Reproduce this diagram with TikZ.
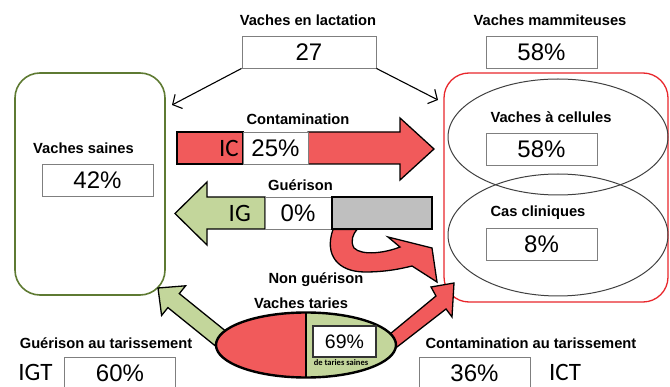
\documentclass[tikz,border=0pt]{standalone}
\usepackage{fontspec}
\setmainfont{Liberation Sans}
\newfontfamily\calibfont{Carlito}
\usepackage{tikz}
\usetikzlibrary{arrows.meta,shapes.geometric}
\usepackage{xcolor}

\definecolor{redfill}{HTML}{F15A5B}
\definecolor{greenfill}{HTML}{C3D69B}
\definecolor{oliveedge}{HTML}{5E7A32}
\definecolor{rededge}{HTML}{E8262B}
\definecolor{grayfill}{HTML}{BFBFBF}
\definecolor{boxedge}{HTML}{7F7F7F}

\begin{document}
\begin{tikzpicture}[
    x=1pt, y=-1pt,
    lbl/.style={inner sep=0pt, font=\fontsize{14.7}{17}\selectfont\bfseries},
    valbox/.style={draw=boxedge, line width=0.9pt, fill=white, inner sep=0pt, minimum width=111pt, minimum height=32pt, font=\fontsize{24}{26}\selectfont},
    idx/.style={inner sep=0pt, font=\calibfont\fontsize{25}{27}\selectfont},
    group/.style={rounded corners=25pt, line width=1.6pt, inner sep=0pt},
    cell/.style={draw=black!75, line width=1pt, ellipse, inner sep=0pt, minimum width=220pt},
    bigarrow/.style={draw=black, line width=1.3pt, line join=miter},
    line/.style={-{Straight Barb[length=7pt, width=16pt]}, line width=1.1pt}
]
\useasboundingbox (0,0) rectangle (670,387);

% top
\node[lbl] (tlact) at (308,20) {Vaches en lactation};
\node[valbox, minimum width=134pt] (lact) at (309,52) {27};
\node[lbl] (tmam) at (550,20) {Vaches mammiteuses};
\node[valbox] (mam) at (541.5,52) {58\%};

% healthy cows
\node[group, draw=oliveedge, minimum width=150pt, minimum height=222pt] (saines) at (90,184) {};
\node[lbl] (tsaines) at (83.5,148) {Vaches saines};
\node[valbox] (vsaines) at (97.5,180.5) {42\%};

% mastitis cows
\node[group, draw=rededge, line width=1.3pt, minimum width=224pt, minimum height=229pt] (mammit) at (556,187.5) {};
\node[cell, minimum height=116pt] (cellules) at (558,137) {};
\node[cell, minimum height=122pt] (cliniques) at (558,235) {};
\node[lbl] (tcell) at (551,117) {Vaches à cellules};
\node[valbox] (vcell) at (541.5,149) {58\%};
\node[lbl] (tclin) at (538,213) {Cas cliniques};
\node[valbox] (vclin) at (541.5,244.5) {8\%};

\coordinate (inL) at (172,105);
\coordinate (inR) at (438,100);
\draw[line] (lact.south west) -- (inL);
\draw[line] (lact.south east) -- (inR);

% contamination
\node[lbl] (tcont) at (298,119) {Contamination};
\fill[redfill, bigarrow] (308,132) -- (400,132) -- (400,118) -- (434,149) -- (400,180) -- (400,164) -- (308,164) -- cycle;
\node[draw=black, line width=1.3pt, fill=redfill, minimum width=66pt, minimum height=32pt, inner sep=0pt] (ic) at (210,148) {};
\node[idx, anchor=east] (tic) at (239,148) {IC};
\node[valbox, minimum width=65pt] (vcont) at (275.5,148) {25\%};

% cure
\node[lbl] (tgue) at (300.5,185) {Guérison};
\fill[greenfill, bigarrow] (265,197) -- (207,197) -- (207,182) -- (175,213.5) -- (207,245) -- (207,229) -- (265,229) -- cycle;
\node[idx, anchor=east] (tig) at (251,213) {IG};
\node[valbox, minimum width=66pt] (vgue) at (298,213) {0\%};
\node[draw=black, line width=1.3pt, fill=grayfill, minimum width=100pt, minimum height=32pt, inner sep=0pt] (nongue) at (382,213) {};

% no cure
\fill[redfill, bigarrow] (333,229.5) .. controls (324,255) and (338,272) .. (365,272)
  .. controls (385,272) and (400,269) .. (412,266) -- (437,282) -- (432,248) -- (388,237)
  -- (400,247) .. controls (385,253) and (362,256) .. (354,248)
  .. controls (350,241) and (353,234) .. (357,229.5) -- cycle;
\node[lbl] (tnongue) at (316,280) {Non guérison};

% dry period
\node[lbl] (ttar) at (301,303) {Vaches taries};
\fill[greenfill, bigarrow] (226.1,331.4) -- (179.3,293.6) -- (185.6,285.8) -- (158,288)
  -- (161.6,315.4) -- (167.9,307.6) -- (214.7,345.4) -- cycle;
\fill[redfill, bigarrow] (390,334) -- (436,296) -- (431,287) -- (454,283)
  -- (452,317) -- (446,309) -- (397,347) -- cycle;
\coordinate (tc) at (306,345);
\fill[redfill] (306,312.5) arc[start angle=90, end angle=270, x radius=90pt, y radius=32.5pt] -- cycle;
\fill[greenfill] (306,312.5) arc[start angle=90, end angle=-90, x radius=90pt, y radius=32.5pt] -- cycle;
\draw[line width=1.5pt] (306,312.5) -- (306,377.5);
\node[draw=black, line width=2.4pt, ellipse, minimum width=180pt, minimum height=65pt, inner sep=0pt] (taries) at (tc) {};
\node[draw=black!80, line width=1.4pt, fill=white, minimum width=63pt, minimum height=31pt, inner sep=0pt, font=\fontsize{19.5}{21}\selectfont] (vtar) at (344.5,341.5) {69\%};
\node[inner sep=0pt, font=\calibfont\fontsize{8.5}{9}\selectfont\bfseries] (ttarsaines) at (341,362.5) {de taries saines};

% bottom
\node[lbl] (tgt) at (106,343) {Guérison au tarissement};
\node[idx] (igt) at (35.5,372) {IGT};
\node[valbox] (vgt) at (120,373) {60\%};
\node[lbl] (tct) at (531,343) {Contamination au tarissement};
\node[valbox] (vct) at (474.5,373) {36\%};
\node[idx] (ict) at (565,372) {ICT};
\end{tikzpicture}
\end{document}
